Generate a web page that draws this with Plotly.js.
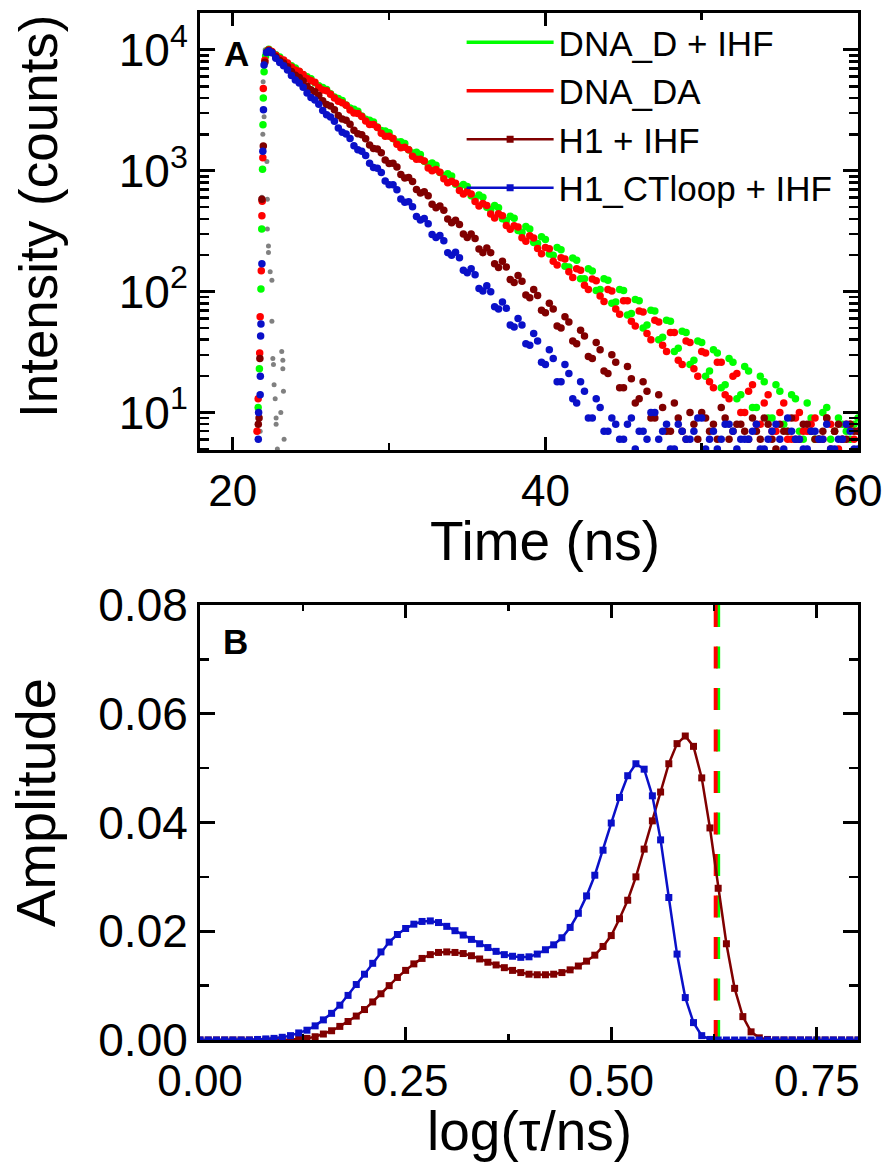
<!DOCTYPE html>
<html><head><meta charset="utf-8">
<script src="https://cdn.plot.ly/plotly-3.0.1.min.js"></script>
<style>html,body{margin:0;padding:0;background:#fff;} #chart{width:887px;height:1165px;}</style>
</head><body><div id="chart"></div>
<script>
// ---------- Panel A: fluorescence decays (time in ns, counts) ----------
const decayTime = [22.5,23,23.5,24,24.5,25,25.5,26,26.5,27,27.5,28,28.5,29,29.5,30,30.5,31,31.5,32,32.5,33,33.5,34,34.5,35,35.5,36,36.5,37,37.5,38,38.5,39,39.5,40,40.5,41,41.5,42,42.5,43,43.5,44,44.5,45,45.5,46,46.5,47,47.5,48,48.5,49,49.5,50,50.5,51,51.5,52,52.5,53,53.5,54,54.5,55,55.5,56,56.5,57,57.5,58,58.5,59,59.5,60];
const scatterTime = [22.75,23.25,23.75,24.25,24.75,25.25,25.75,26.25,26.75,27.25,27.75,28.25,28.75,29.25,29.75,30.25,30.75,31.25,31.75,32.25,32.75,33.25,33.75,34.25,34.75,35.25,35.75,36.25,36.75,37.25,37.75,38.25,38.75,39.25,39.75,40.25,40.75,41.25,41.75,42.25,42.75,43.25,43.75,44.25,44.75,45.25,45.75,46.25,46.75,47.25,47.75,48.25,48.75,49.25,49.75,50.25,50.75,51.25,51.75,52.25,52.75,53.25,53.75,54.25,54.75,55.25,55.75,56.25,56.75,57.25,57.75,58.25,58.75,59.25,59.75];

const dnaD_riseTime = [21.62,21.7,21.8,21.85,21.9,21.93,21.95,22.0,22.1,22.2,22.3];
const dnaD_riseCounts = [11,23,105,329,1030,2400,4000,6600,8900,9800,10100];
const dnaD_band = [9500,8720,7700,7090,6240,5770,5040,4700,4080,3810,3300,3100,2670,2530,2150,2060,1730,1680,1400,1360,1130,1110,910,905,735,740,590,605,475,495,385,405,310,330,250,270,200,222,160,182,128,148,104,124,82,102,66,84,53,69,42,57,34,46,27,38,22,31,17,26,14,22,11,18,9,15,7,13,6,9,6,11,7,8,6,9];
const dnaD_scatter = [9100,8180,7400,6630,6000,5350,4890,4330,3960,3500,3220,2840,2620,2300,2130,1850,1740,1490,1420,1200,1160,965,945,775,770,620,630,500,515,400,420,320,345,255,285,205,232,162,190,128,155,102,128,80,104,64,86,50,70,40,58,32,47,25,39,20,33,16,28,13,24,11,20,9,17,8,14,7,12,6,10,6,9,7,8];

const dnaDA_riseTime = [21.55,21.62,21.72,21.75,21.82,21.86,21.88,21.92,21.95,22.05,22.2,22.3];
const dnaDA_riseCounts = [7,13,31,62,149,424,560,1280,4800,8200,9700,10000];
const dnaDA_band = [9680,8500,7790,6820,6270,5570,4900,4580,3990,3650,3175,2970,2585,2410,2040,1930,1655,1565,1320,1245,1055,1025,858,818,685,672,557,536,439,440,353,351,279,290,227,232,178,191,146,155,113,127,92,104,72,84,57,69,45,58,36,46,27,39,23,32,18,26,14,20,10,15,8,12,7,10,6,9,7,8,6,9,7,6,8,7];
const dnaDA_scatter = [9020,8240,7230,6650,5790,5390,4650,4290,3750,3490,3010,2815,2410,2275,1930,1845,1550,1490,1245,1205,998,971,796,790,641,642,511,517,407,424,328,342,261,278,206,226,166,186,131,150,104,123,83,101,65,84,52,68,40,56,32,46,25,38,20,31,16,26,13,21,10,17,8,14,7,12,6,10,7,9,6,8,5,8,6];

const h1_riseTime = [21.63,21.68,21.73,21.86,21.95,22.05,22.2,22.3];
const h1_riseCounts = [8,9,28,580,1600,7900,9600,9900];
const h1_band = [9550,8150,7260,6170,5530,4670,4200,3540,3190,2680,2430,2020,1840,1530,1410,1150,1075,870,815,655,620,495,472,372,360,280,275,210,210,158,160,119,122,89,93,67,72,50,56,37,43,28,33,21,26,16,19,13,15,9,11,7,9,6,8,10,7,6,9,7,8,6,7,9,6,8,7,6,8,7,6,9,7,6,8,7];
const h1_scatter = [8760,7770,6630,5920,5000,4510,3790,3430,2860,2620,2160,1990,1630,1510,1230,1155,930,880,700,670,528,512,398,390,300,300,225,230,170,178,126,136,94,104,70,80,52,62,39,48,29,38,22,30,16,24,12,18,9,14,7,12,7,10,6,9,8,11,6,8,7,9,6,8,5,7,9,6,8,6,7,5,8,6,7];

const ctloop_riseTime = [21.63,21.65,21.75,21.76,21.78,21.8,21.86,21.92,21.96,22.0,22.15,22.3];
const ctloop_riseCounts = [6,10,14,20,43,54,170,1450,3200,7500,9500,9800];
const ctloop_band = [9450,7860,6800,5630,4910,4040,3550,2900,2570,2080,1850,1490,1340,1065,965,765,697,548,503,392,365,280,264,200,191,143,138,101,100,72,73,51,53,36,39,25,28,18,21,12,15,9,11,7,8,6,9,7,6,10,7,5,8,6,7,9,6,5,8,7,6,6,8,5,7,6,9,6,5,7,6,8,5,6,7,5];
const ctloop_scatter = [8540,7390,6130,5330,4390,3850,3150,2780,2260,2010,1610,1450,1155,1050,822,765,585,555,418,402,297,292,210,212,150,155,106,112,75,82,53,60,37,45,26,33,18,25,13,18,9,13,7,9,6,8,5,7,10,6,8,5,7,6,9,5,7,6,8,5,6,7,5,6,8,5,7,6,5,7,6,5,6,8,5];

const irfTime = [22.07,21.94,22.0,21.92,22.18,21.86,22.21,22.21,22.28,22.28,22.39,22.5,22.5,22.56,22.6,23.13,23.2,23.2,22.64,23.24,22.71,23.07,22.77,22.77,23.28,21.75,21.64,22.85];
const irfCounts = [10000,5450,2800,2000,1190,604,580,329,238,211,146,124,57,28,25,32,27,23,17,15,13,10,9,8,6,7,10,5];

const intensityTickVals = [10,100,1000,10000];
const intensityTickText = ['10<sup>1</sup>','10<sup>2</sup>','10<sup>3</sup>','10<sup>4</sup>'];

// ---------- Panel B: lifetime distributions ----------
const logTau = [0.00,0.01,0.02,0.03,0.04,0.05,0.06,0.07,0.08,0.09,0.10,0.11,0.12,0.13,0.14,0.15,0.16,0.17,0.18,0.19,0.20,0.21,0.22,0.23,0.24,0.25,0.26,0.27,0.28,0.29,0.30,0.31,0.32,0.33,0.34,0.35,0.36,0.37,0.38,0.39,0.40,0.41,0.42,0.43,0.44,0.45,0.46,0.47,0.48,0.49,0.50,0.51,0.52,0.53,0.54,0.55,0.56,0.57,0.58,0.59,0.60,0.61,0.62,0.63,0.64,0.65,0.66,0.67,0.68,0.69,0.70,0.71,0.72,0.73,0.74,0.75,0.76,0.77,0.78,0.79,0.80];
const h1_amp = [0,0,0,0,0,0,0,0,0,0,0.0001,0.0001,0.0002,0.0003,0.0006,0.0011,0.0017,0.0025,0.0034,0.0044,0.0056,0.0070,0.0085,0.0100,0.0115,0.0128,0.0140,0.0150,0.0157,0.0161,0.0162,0.0161,0.0159,0.0155,0.0149,0.0143,0.0138,0.0133,0.0128,0.0124,0.0121,0.0120,0.0120,0.0121,0.0124,0.0129,0.0136,0.0145,0.0156,0.0172,0.0192,0.0223,0.0257,0.0300,0.0351,0.0403,0.0456,0.0508,0.0545,0.0559,0.0540,0.0482,0.0390,0.0279,0.0177,0.0095,0.0043,0.0015,0.0004,0.0001,0,0,0,0,0,0,0,0,0,0,0];
const ctloop_amp = [0,0,0,0,0,0,0,0.0001,0.0002,0.0003,0.0005,0.0008,0.0013,0.0018,0.0026,0.0037,0.0049,0.0064,0.0082,0.0102,0.0121,0.0141,0.0162,0.0180,0.0194,0.0205,0.0213,0.0218,0.0219,0.0216,0.0209,0.0201,0.0193,0.0185,0.0177,0.0170,0.0163,0.0157,0.0154,0.0152,0.0153,0.0158,0.0166,0.0175,0.0188,0.0207,0.0233,0.0265,0.0303,0.0349,0.0399,0.0446,0.0486,0.0508,0.0498,0.0449,0.0368,0.0262,0.0158,0.0078,0.0032,0.0008,0.0001,0,0,0,0,0,0,0,0,0,0,0,0,0,0,0,0,0,0];
const dnaD_tau = 0.630;   // single lifetime (log tau/ns) for DNA_D + IHF
const dnaDA_tau = 0.627;  // single lifetime for DNA_DA
const ampRange = [0.08, 0];

const seriesNames = ['DNA_D + IHF','DNA_DA','H1 + IHF','H1_CTloop + IHF'];
const colors = {green:'#00ff00', red:'#ff0000', brown:'#800000', blue:'#0a10c8', gray:'#808080'};

const FONT = 'Liberation Sans, Arial, Helvetica, sans-serif';

function decayTrace(riseT, riseC, band, scat, color){
  return {
    type:'scatter', mode:'markers', xaxis:'x', yaxis:'y', showlegend:false, hoverinfo:'skip',
    x: riseT.concat(decayTime, scatterTime),
    y: riseC.concat(band, scat),
    marker:{color:color, size:7.5}
  };
}

const data = [
  {type:'scatter', mode:'markers', xaxis:'x', yaxis:'y', showlegend:false, x:irfTime, y:irfCounts, marker:{color:colors.gray, size:5}},
  decayTrace(dnaD_riseTime, dnaD_riseCounts, dnaD_band, dnaD_scatter, colors.green),
  decayTrace(dnaDA_riseTime, dnaDA_riseCounts, dnaDA_band, dnaDA_scatter, colors.red),
  decayTrace(h1_riseTime, h1_riseCounts, h1_band, h1_scatter, colors.brown),
  decayTrace(ctloop_riseTime, ctloop_riseCounts, ctloop_band, ctloop_scatter, colors.blue),
  // legend entries for the single-lifetime samples
  {type:'scatter', mode:'lines', xaxis:'x', yaxis:'y', name:seriesNames[0], x:[null], y:[null], line:{color:colors.green, width:3.5}},
  {type:'scatter', mode:'lines', xaxis:'x', yaxis:'y', name:seriesNames[1], x:[null], y:[null], line:{color:colors.red, width:3.5}},
  // panel B
  {type:'scatter', mode:'lines', xaxis:'x2', yaxis:'y2', showlegend:false, x:[dnaD_tau,dnaD_tau], y:ampRange, line:{color:colors.green, width:4, dash:'22px,19.5px'}},
  {type:'scatter', mode:'lines', xaxis:'x2', yaxis:'y2', showlegend:false, x:[dnaDA_tau,dnaDA_tau], y:ampRange, line:{color:colors.red, width:4, dash:'22px,19.5px'}},
  {type:'scatter', mode:'lines+markers', xaxis:'x2', yaxis:'y2', name:seriesNames[2], x:logTau, y:h1_amp, line:{color:colors.brown, width:2.5}, marker:{color:colors.brown, size:7, symbol:'square'}},
  {type:'scatter', mode:'lines+markers', xaxis:'x2', yaxis:'y2', name:seriesNames[3], x:logTau, y:ctloop_amp, line:{color:colors.blue, width:2.5}, marker:{color:colors.blue, size:7, symbol:'square'}}
];

const minorLog = [];
[1,10,100,1000].forEach(d => { for (let k=2;k<=9;k++) minorLog.push(k*d); });

const axisCommon = {
  showline:true, linewidth:3, linecolor:'#000', mirror:'ticks', showgrid:false, zeroline:false,
  ticks:'inside', ticklen:13, tickwidth:3, tickcolor:'#000',
  tickfont:{size:44, color:'#000', family:FONT}
};

function titleAnn(text, x, y, size, angle){
  return {text:text, xref:'paper', yref:'paper', x:x, y:y, xanchor:'center', yanchor:'middle',
          textangle:angle, showarrow:false, font:{size:size, family:FONT, color:'#000'}};
}

const layout = {
  width:887, height:1165,
  margin:{l:200, r:29, t:13, b:125},
  paper_bgcolor:'#fff', plot_bgcolor:'#fff',
  font:{family:FONT, color:'#000'},
  showlegend:true,
  legend:{x:0.3976, xanchor:'left', y:1.0, yanchor:'top', bgcolor:'rgba(0,0,0,0)', font:{size:35, family:FONT}, itemwidth:87, tracegroupgap:0},
  xaxis: Object.assign({}, axisCommon, {
    domain:[0,1], anchor:'y', range:[17.9,60], tickmode:'linear', tick0:0, dtick:20,
    minor:{tickmode:'linear', tick0:0, dtick:10, ticks:'inside', ticklen:7, tickwidth:2.5, tickcolor:'#000'}
  }),
  yaxis: Object.assign({}, axisCommon, {
    domain:[0.5745,1], anchor:'x', type:'log', range:[0.69,4.305],
    tickmode:'array', tickvals:intensityTickVals, ticktext:intensityTickText, ticklen:15,
    tickfont:{size:46, color:'#000', family:FONT},
    minor:{tickmode:'array', tickvals:minorLog, ticks:'inside', ticklen:9, tickwidth:2.5, tickcolor:'#000'}
  }),
  xaxis2: Object.assign({}, axisCommon, {
    domain:[0,1], anchor:'y2', range:[0,0.8], tickmode:'linear', tick0:0, dtick:0.25, tickformat:'.2f',
    minor:{tickmode:'linear', tick0:0, dtick:0.125, ticks:'inside', ticklen:6, tickwidth:2.5, tickcolor:'#000'}
  }),
  yaxis2: Object.assign({}, axisCommon, {
    domain:[0,0.4236], anchor:'x2', range:[0,0.08], tickmode:'linear', tick0:0, dtick:0.02, tickformat:'.2f', ticklen:15,
    tickfont:{size:46, color:'#000', family:FONT},
    minor:{tickmode:'linear', tick0:0, dtick:0.01, ticks:'inside', ticklen:9, tickwidth:2.5, tickcolor:'#000'}
  }),
  annotations:[
    {text:'<b>A</b>', xref:'x domain', yref:'y domain', x:0.033, y:0.908, xanchor:'left', yanchor:'middle', showarrow:false, font:{size:35, family:FONT, color:'#000'}},
    {text:'<b>B</b>', xref:'x2 domain', yref:'y2 domain', x:0.032, y:0.917, xanchor:'left', yanchor:'middle', showarrow:false, font:{size:35, family:FONT, color:'#000'}},
    titleAnn('Intensity (counts)', -0.2462, 0.8023, 53, -90),
    titleAnn('Amplitude', -0.2508, 0.2317, 56, -90),
    titleAnn('Time (ns)', 0.524, 0.4859, 55, 0),
    titleAnn('log(τ/ns)', 0.5, -0.0886, 55, 0)
  ]
};

Plotly.newPlot('chart', data, layout, {displayModeBar:false, staticPlot:true});
</script></body></html>
